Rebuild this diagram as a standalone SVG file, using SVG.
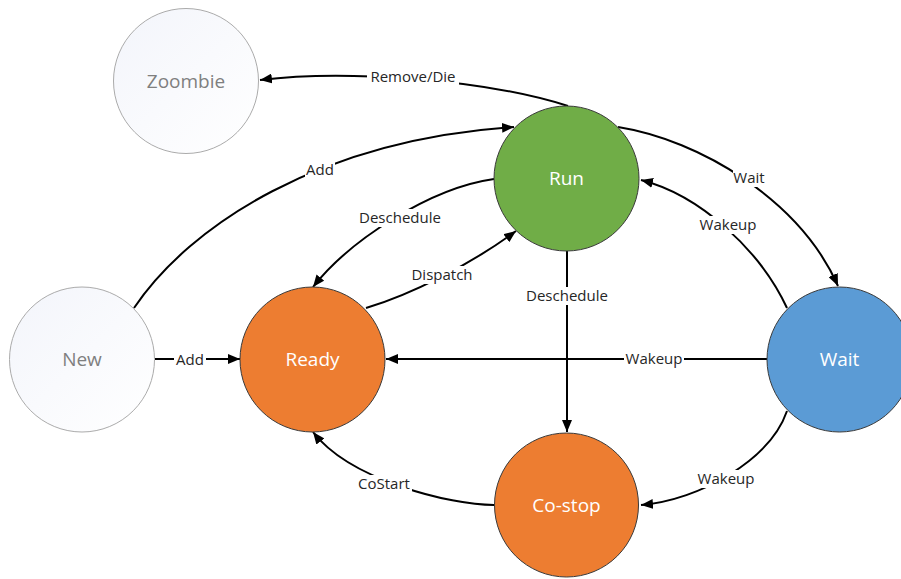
<svg xmlns="http://www.w3.org/2000/svg" width="901" height="579" viewBox="0 0 901 579">
<style>
.node-pale{stroke:#ABABAB;stroke-width:1;fill:url(#pale)}
.node{stroke:#3A3A3A;stroke-width:1}
.ntext{font-family:"Open Sans","Noto Sans",sans-serif;font-size:19px;text-anchor:middle}
.edge{fill:none;stroke:#000;stroke-width:2;marker-end:url(#arr)}
.lbg{fill:#fff}
.ltext{font-family:"Open Sans","Noto Sans",sans-serif;font-size:15px;fill:#262626;text-anchor:middle}
</style>
<defs>
<linearGradient id="pale" x1="0" y1="0" x2="1" y2="1">
<stop offset="0" stop-color="#F3F5FB"/>
<stop offset="1" stop-color="#FFFFFF"/>
</linearGradient>
<marker id="arr" markerUnits="userSpaceOnUse" markerWidth="12" markerHeight="10" refX="12" refY="5" orient="auto">
<path d="M0,0 L12,5 L0,10 z" fill="#000"/>
</marker>
</defs>
<rect width="901" height="579" fill="#fff"/>
<g id="connectors">
<path class="edge" d="M568 106 C480 78 340 70 260 80"/>
<path class="edge" d="M134 308 C190 225 320 140 514 127"/>
<path class="edge" d="M494 179 C430 188 350 240 313 287"/>
<path class="edge" d="M366 308 C410 295 470 265 516 231"/>
<path class="edge" d="M567 251 L567 432"/>
<path class="edge" d="M618 127 C700 140 800 200 838 286"/>
<path class="edge" d="M787 308 C760 250 700 195 641 180"/>
<path class="edge" d="M767 359 L386 359"/>
<path class="edge" d="M155 359 L240 359"/>
<path class="edge" d="M494 505 C450 505 350 480 313 432"/>
<path class="edge" d="M787 411 C770 460 700 500 641 505"/>
<g id="labels">
<rect class="lbg" x="367" y="68" width="92" height="18"/><text class="ltext" x="413" y="77" dy=".35em">Remove/Die</text>
<rect class="lbg" x="305" y="161" width="30" height="18"/><text class="ltext" x="320" y="170" dy=".35em">Add</text>
<rect class="lbg" x="357" y="209" width="86" height="18"/><text class="ltext" x="400" y="218" dy=".35em">Deschedule</text>
<rect class="lbg" x="410" y="266" width="64" height="18"/><text class="ltext" x="442" y="275" dy=".35em">Dispatch</text>
<rect class="lbg" x="524" y="287" width="86" height="18"/><text class="ltext" x="567" y="296" dy=".35em">Deschedule</text>
<rect class="lbg" x="733" y="169" width="32" height="18"/><text class="ltext" x="749" y="178" dy=".35em">Wait</text>
<rect class="lbg" x="698" y="216" width="60" height="18"/><text class="ltext" x="728" y="225" dy=".35em">Wakeup</text>
<rect class="lbg" x="624" y="350" width="60" height="18"/><text class="ltext" x="654" y="359" dy=".35em">Wakeup</text>
<rect class="lbg" x="174" y="351" width="32" height="18"/><text class="ltext" x="190" y="360" dy=".35em">Add</text>
<rect class="lbg" x="356" y="475" width="56" height="18"/><text class="ltext" x="384" y="484" dy=".35em">CoStart</text>
<rect class="lbg" x="696" y="470" width="60" height="18"/><text class="ltext" x="726" y="479" dy=".35em">Wakeup</text>
</g>
</g>
<g id="zoombie"><circle class="node-pale" cx="186" cy="81" r="72.5"/><text class="ntext" x="186" y="81" dy=".35em" fill="#7F7F7F">Zoombie</text></g>
<g id="run"><circle class="node" cx="566.5" cy="178.5" r="72.5" fill="#70AD47"/><text class="ntext" x="566.5" y="178.5" dy=".35em" fill="#fff">Run</text></g>
<g id="new"><circle class="node-pale" cx="82" cy="359.5" r="72.5"/><text class="ntext" x="82" y="359.5" dy=".35em" fill="#7F7F7F">New</text></g>
<g id="ready"><circle class="node" cx="312.5" cy="359.5" r="72.5" fill="#ED7D31"/><text class="ntext" x="312.5" y="359.5" dy=".35em" fill="#fff">Ready</text></g>
<g id="wait"><circle class="node" cx="839.5" cy="359.5" r="72.5" fill="#5B9BD5"/><text class="ntext" x="839.5" y="359.5" dy=".35em" fill="#fff">Wait</text></g>
<g id="costop"><circle class="node" cx="566.5" cy="505" r="72" fill="#ED7D31"/><text class="ntext" x="566.5" y="505" dy=".35em" fill="#fff">Co-stop</text></g>
</svg>
